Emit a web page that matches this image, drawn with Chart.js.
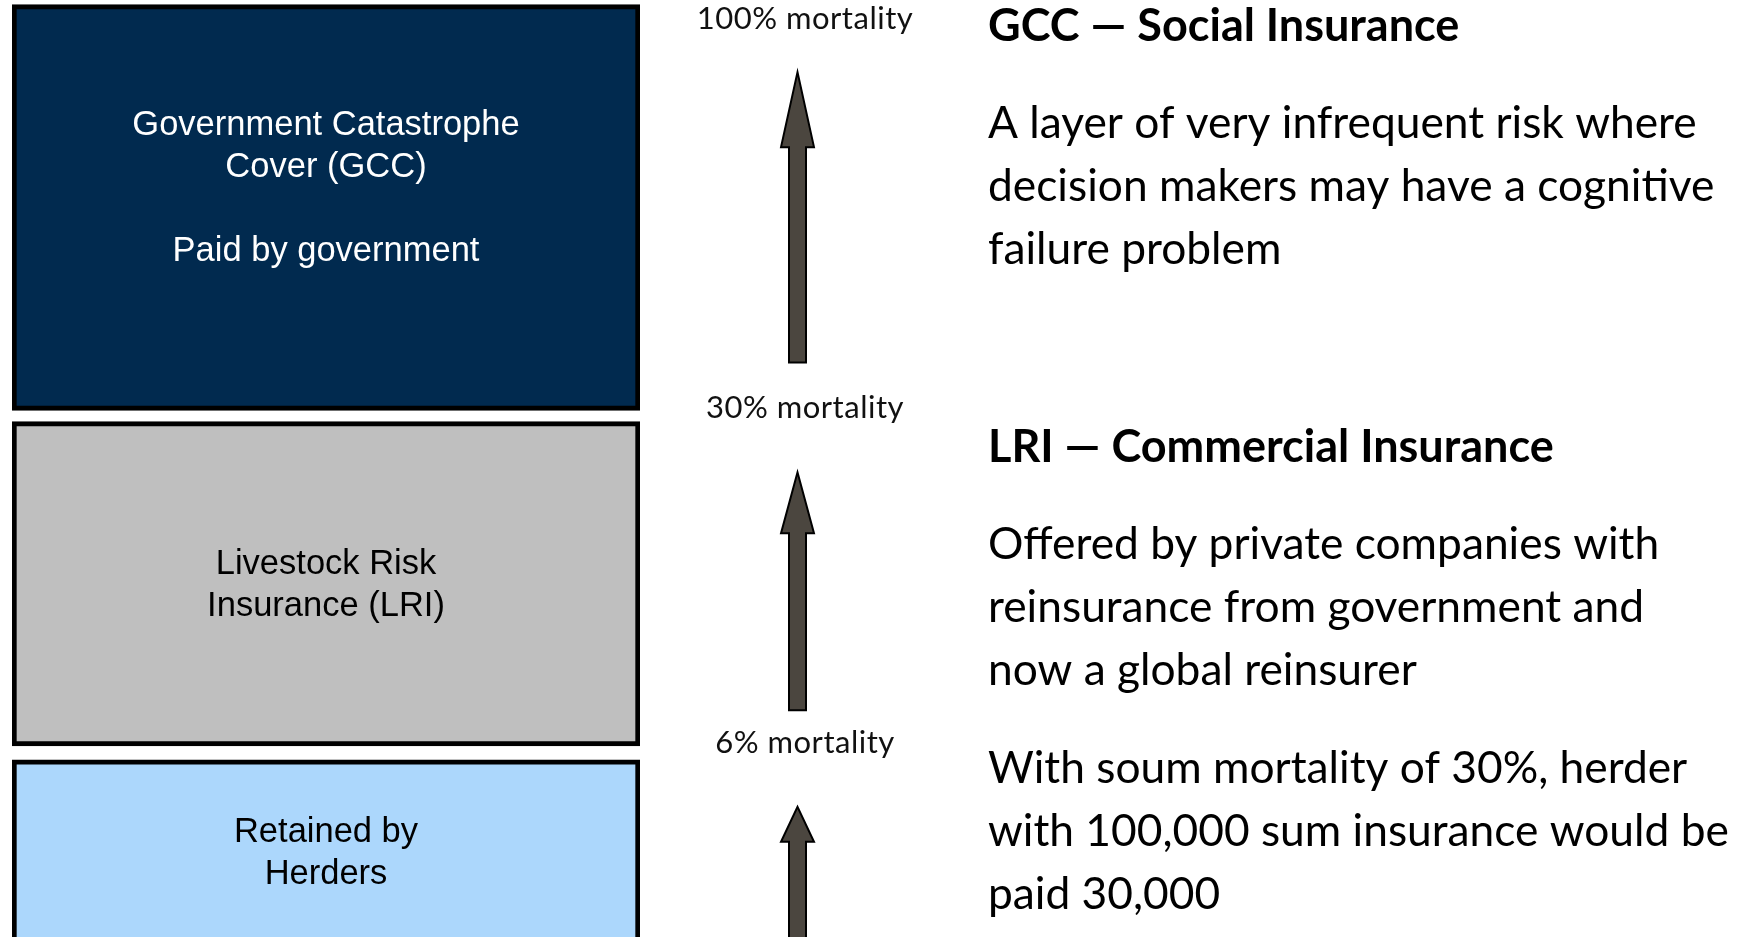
<!DOCTYPE html>
<html>
<head>
<meta charset="utf-8">
<script src="https://cdn.jsdelivr.net/npm/chart.js@4.4.1/dist/chart.umd.min.js"></script>
<style>
  html, body { margin: 0; padding: 0; background: #fff; }
  canvas { display: block; }
</style>
</head>
<body>
<canvas id="myChart" width="1740" height="937"></canvas>
<script>
// layers of the risk stack, y in diagram units (0 = bottom, 100 = top)
let layerNames = [
  ["Government Catastrophe", "Cover (GCC)", "", "Paid by government", ""],
  ["Livestock Risk", "Insurance (LRI)"],
  ["Retained by", "Herders"]
]
let layerLow = [56.2, 20.4, -0.6]
let layerHigh = [99.5, 55.0, 18.9]

// mortality thresholds and the arrows between them
let thresholdLabels = ["100% mortality", "30% mortality", "6% mortality"]
let thresholdLevels = [98.0, 56.5, 20.7]
let arrowFrom = [61.3, 24.2, -2]
let arrowTo = [92.3, 49.6, 13.9]

// notes on the right
let noteHeadings = ["GCC — Social Insurance", "LRI — Commercial Insurance"]
let notes = [
  ["A layer of very infrequent risk where", "decision makers may have a cognitive", "failure problem"],
  ["Offered by private companies with", "reinsurance from government and", "now a global reinsurer"],
  ["With soum mortality of 30%, herder", "with 100,000 sum insurance would be", "paid 30,000"]
]

let layerColors = ["#012a4f", "#bfbfbf", "#acd7fc"]
let layerText = ["#ffffff", "#000000", "#000000"]

let diagram = {
  id: "diagram",
  afterDatasetsDraw(chart) {
    let ctx = chart.ctx
    let y = chart.scales.y

    // box labels
    ctx.save()
    ctx.textAlign = "center"
    ctx.textBaseline = "middle"
    ctx.font = "34.5px 'Liberation Sans', Arial, sans-serif"
    chart.data.datasets.forEach((ds, i) => {
      let bar = chart.getDatasetMeta(i).data[0]
      let cy = (y.getPixelForValue(layerLow[i]) + y.getPixelForValue(layerHigh[i])) / 2 + 2
      let lines = layerNames[i]
      let lh = 42
      ctx.fillStyle = layerText[i]
      lines.forEach((t, k) => {
        ctx.fillText(t, bar.x, cy + (k - (lines.length - 1) / 2) * lh)
      })
    })
    ctx.restore()

    // arrows
    let ax = 797.5
    let headLen = [75, 61, 35]
    let shaft = 8.5, head = 16.5
    ctx.save()
    ctx.fillStyle = "#4b463f"
    ctx.strokeStyle = "#000"
    ctx.lineWidth = 2
    ctx.lineJoin = "miter"
    arrowFrom.forEach((v, i) => {
      let y0 = y.getPixelForValue(v)
      let y1 = y.getPixelForValue(arrowTo[i])
      let hb = y1 + headLen[i]
      ctx.beginPath()
      ctx.moveTo(ax - shaft, y0)
      ctx.lineTo(ax - shaft, hb)
      ctx.lineTo(ax - head, hb)
      ctx.lineTo(ax, y1)
      ctx.lineTo(ax + head, hb)
      ctx.lineTo(ax + shaft, hb)
      ctx.lineTo(ax + shaft, y0)
      ctx.closePath()
      ctx.fill()
      ctx.stroke()
    })
    ctx.restore()

    // threshold labels
    ctx.save()
    ctx.textAlign = "center"
    ctx.textBaseline = "middle"
    ctx.fillStyle = "#111"
    ctx.font = "31px Lato, sans-serif"
    ctx.letterSpacing = "0.5px"
    thresholdLabels.forEach((t, i) => {
      ctx.fillText(t, 805, y.getPixelForValue(thresholdLevels[i]))
    })
    ctx.restore()

    // notes
    ctx.save()
    ctx.textAlign = "left"
    ctx.textBaseline = "middle"
    ctx.fillStyle = "#000"
    let left = 988
    ctx.font = "bold 45px Lato, sans-serif"
    let headY = [26, 447]
    noteHeadings.forEach((t, i) => ctx.fillText(t, left, headY[i]))
    ctx.font = "44.3px Lato, sans-serif"
    let paraY = [124, 545, 769]
    notes.forEach((lines, i) => {
      lines.forEach((t, k) => ctx.fillText(t, left, paraY[i] + k * 63))
    })
    ctx.restore()
  }
}

let ctx = document.getElementById("myChart")
let myChart = new Chart(ctx, {
  type: "bar",
  data: {
    labels: ["layers"],
    datasets: layerNames.map((n, i) => ({
      label: n.join(" "),
      data: [[layerLow[i], layerHigh[i]]],
      backgroundColor: layerColors[i],
      borderColor: "#000",
      borderWidth: 5,
      borderSkipped: false,
      grouped: false,
      barPercentage: 1,
      categoryPercentage: 1
    }))
  },
  options: {
    responsive: false,
    devicePixelRatio: 1,
    animation: false,
    layout: { padding: { left: 12, right: 1100, top: 0, bottom: 0 } },
    scales: {
      x: { display: false },
      y: { display: false, min: 0, max: 100 }
    },
    plugins: {
      legend: { display: false },
      tooltip: { enabled: false }
    }
  },
  plugins: [diagram]
})
</script>
</body>
</html>
